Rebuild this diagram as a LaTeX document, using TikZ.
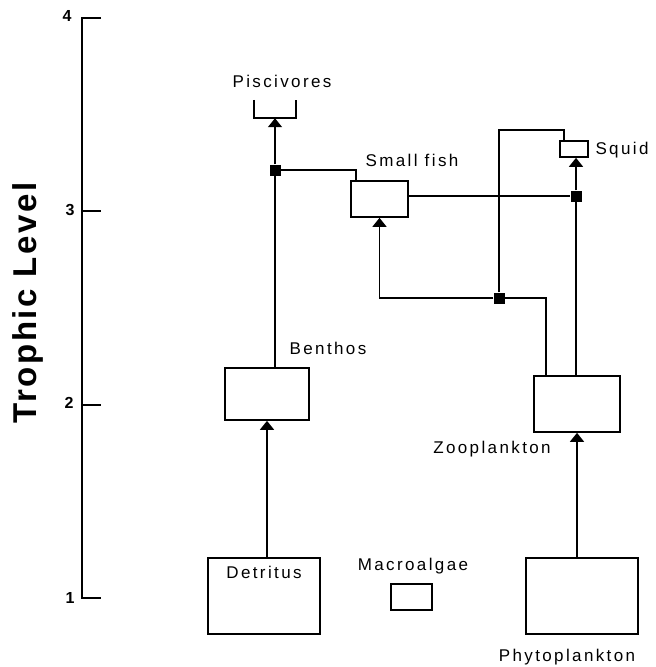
\documentclass[tikz,border=0pt]{standalone}
\usepackage{fontspec}
\setmainfont{Liberation Sans}
\newfontfamily\lblfont[LetterSpace=14]{Liberation Sans}
\newfontfamily\ttlfont[LetterSpace=8]{Liberation Sans}
\usetikzlibrary{arrows.meta}
\begin{document}
\begin{tikzpicture}[x=1pt,y=-1pt,
  ln/.style={line width=1.7pt},
  arr/.style={ln,-{Triangle[width=14pt,length=9pt]}},
  box/.style={draw,line width=1.7pt,inner sep=0pt,minimum width=#1},
  lbl/.style={inner sep=0pt,font=\lblfont\fontsize{17}{17}\selectfont},
  junc/.style={fill=black,inner sep=0pt,minimum size=11pt},
  num/.style={inner sep=0pt,font=\bfseries\fontsize{16}{16}\selectfont}]
\useasboundingbox (0,0) rectangle (656,667);
% axis
\coordinate (a4) at (82,18);
\coordinate (a1) at (82,598);
\draw[ln] ([xshift=19pt]a4) -- (a4) -- (a1) -- ([xshift=19pt]a1);
\draw[ln] (82,211.3) -- (101,211.3);
\draw[ln] (82,404.7) -- (101,404.7);
\node[num] (n4) at (67,16) {4};
\node[num] (n3) at (70,210) {3};
\node[num] (n2) at (69,403) {2};
\node[num] (n1) at (70,598) {1};
\node[inner sep=0pt,rotate=90,font=\ttlfont\bfseries\fontsize{33}{33}\selectfont] (ttl) at (28,303) {Trophic Level};
% boxes
\node[inner sep=0pt,minimum width=41pt,minimum height=18pt] (pisc) at (275,109) {};
\draw[ln] (pisc.north west) -- (pisc.south west) -- (pisc.south east) -- (pisc.north east);
\node[box=57pt,minimum height=36pt] (sf) at (379.5,199) {};
\node[box=28pt,minimum height=16pt] (sq) at (574,149) {};
\node[box=84pt,minimum height=52pt] (ben) at (267,394) {};
\node[box=86pt,minimum height=56pt] (zoo) at (577,404) {};
\node[box=112pt,minimum height=76pt] (det) at (264,596) {};
\node[box=41pt,minimum height=26pt] (mac) at (411.5,597) {};
\node[box=112pt,minimum height=76pt] (phy) at (582,596) {};
% labels
\node[lbl] (lpisc) at (282,81) {Piscivores};
\node[lbl] (lsf) at (412,160) {Small fish};
\node[lbl] (lsq) at (622,150) {Squid};
\node[lbl] (lben) at (328,348) {Benthos};
\node[lbl] (lzoo) at (492,449) {Zooplankton};
\node[lbl] (ldet) at (264,572) {Detritus};
\node[lbl] (lmac) at (413,566) {Macroalgae};
\node[lbl] (lphy) at (567,657) {Phytoplankton};
% junctions
\node[junc] (j1) at (275,170) {};
\node[junc] (j2) at (576,196) {};
\node[junc] (j3) at (499,298) {};
% connectors
\draw[arr] (det.north -| ben) -- (ben.south);
\draw[ln] (ben.north -| j1) -- (j1);
\draw[arr] (j1) -- (pisc.south -| j1);
\draw[ln] (j1) -| ([xshift=6pt]sf.north west);
\draw[ln] ([yshift=3pt]sf.east) -- (j2);
\draw[ln] (zoo.north -| j2) -- (j2);
\draw[arr] (j2) -- (sq.south -| j2);
\coordinate (zl) at ([xshift=-31pt]zoo.north);
\draw[ln] (zl) |- (j3);
\draw[arr] (j3) -| (sf.south);
\coordinate (sqin) at ([xshift=-10pt]sq.north);
\draw[ln] (j3) |- ([yshift=10pt]sqin) -- (sqin);
\draw[arr] (phy.north -| zoo) -- (zoo.south);
\end{tikzpicture}
\end{document}
